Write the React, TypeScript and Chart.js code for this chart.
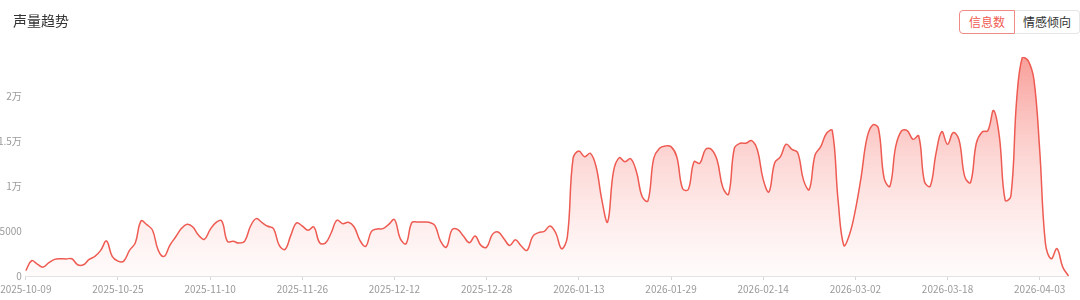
import React, { useEffect, useRef } from "react";
import { Chart, registerables } from "chart.js";

Chart.register(...registerables);

const START_DATE = "2025-10-09";
const DAY_COUNT = 182;
const TICK_EVERY = 16;

const volume: number[] = [
  600, 1700, 1320, 990, 1480, 1850, 1920, 1900, 1920, 1250,
  1250, 1850, 2180, 2850, 3900, 2180, 1660, 1660, 2850, 3670,
  6130, 5720, 5090, 2850, 2180, 3410, 4340, 5280, 5760, 5460,
  4530, 4080, 5170, 5950, 6130, 3860, 3860, 3670, 3890, 5540,
  6390, 5950, 5540, 5280, 3410, 2960, 4530, 5910, 5570, 5090,
  5460, 3710, 3670, 4790, 6210, 5830, 5980, 5460, 3970, 3300,
  4980, 5240, 5280, 5760, 6280, 4160, 3600, 5950, 6020, 6020,
  5980, 5650, 3880, 3220, 5160, 5160, 4420, 3710, 4460, 3410,
  3220, 4640, 4900, 4160, 3410, 4045, 3340, 2850, 4420, 4830,
  4980, 5570, 4790, 3040, 4340, 13110, 13930, 13290, 13670, 12170,
  8450, 6020, 11610, 13180, 12730, 13070, 11610, 8820, 8370, 13110,
  14230, 14490, 14410, 13290, 9750, 9640, 12730, 12550, 14110, 14110,
  12920, 9860, 9120, 14230, 14790, 14790, 15080, 14040, 10760, 9370,
  12620, 13290, 14680, 14110, 13740, 10680, 9640, 13480, 14410, 15900,
  16200, 8450, 3410, 4640, 7330, 11000, 15340, 16830, 16460, 10870,
  10010, 14410, 16160, 16200, 15230, 15600, 10500, 10010, 13670, 16090,
  14680, 15980, 15160, 11050, 10420, 14790, 16050, 16200, 18440, 15530,
  8450, 8890, 19630, 24400, 23990, 21870, 14040, 3600, 1920, 3040,
  985, 0,
];

const yTickValues: number[] = [0, 5000, 10000, 15000, 20000];
const yTickLabels: string[] = ["0", "5000", "1万", "1.5万", "2万"];

function buildDates(start: string, count: number): string[] {
  const out: string[] = [];
  const d = new Date(start + "T00:00:00Z");
  for (let i = 0; i < count; i++) {
    const c = new Date(d.getTime() + i * 86400000);
    const y = c.getUTCFullYear();
    const m = String(c.getUTCMonth() + 1).padStart(2, "0");
    const dd = String(c.getUTCDate()).padStart(2, "0");
    out.push(`${y}-${m}-${dd}`);
  }
  return out;
}

const dates = buildDates(START_DATE, DAY_COUNT);

const FONT = "'Noto Sans CJK SC', 'Noto Sans', sans-serif";

export default function App() {
  const ref = useRef<HTMLCanvasElement | null>(null);

  useEffect(() => {
    if (!ref.current) return;
    const chart = new Chart(ref.current, {
      type: "line",
      data: {
        labels: dates,
        datasets: [
          {
            data: volume,
            borderColor: "#ee5b52",
            borderWidth: 1.5,
            pointRadius: 0,
            tension: 0.4,
            fill: true,
            backgroundColor: (ctx: any) => {
              const area = ctx.chart.chartArea;
              if (!area) return "rgba(242,90,80,0.2)";
              const g = ctx.chart.ctx.createLinearGradient(0, area.top, 0, area.bottom);
              g.addColorStop(0, "rgba(244,96,88,0.6)");
              g.addColorStop(0.45, "rgba(246,120,112,0.3)");
              g.addColorStop(1, "rgba(250,160,155,0.04)");
              return g;
            },
          },
        ],
      },
      options: {
        responsive: false,
        animation: false,
        layout: { padding: { top: 57, right: 11.5, left: 0, bottom: 0 } },
        plugins: { legend: { display: false }, tooltip: { enabled: false } },
        scales: {
          x: {
            type: "category",
            offset: false,
            border: { display: true, color: "#e3e3e3" },
            grid: {
              display: true,
              drawOnChartArea: false,
              drawTicks: true,
              tickLength: 4,
              color: "#d6d6d6",
            },
            afterBuildTicks: (scale: any) => {
              scale.ticks = scale.ticks.filter((t: any) => t.value % TICK_EVERY === 0);
            },
            afterFit: (scale: any) => {
              scale.height = 24;
              scale.paddingLeft = 0;
              scale.paddingRight = 0;
            },
            ticks: {
              autoSkip: false,
              maxRotation: 0,
              minRotation: 0,
              padding: 3,
              color: "#9a9a9a",
              font: { family: FONT, size: 10 },
              callback: function (this: any, value: any) {
                return dates[value as number];
              },
            },
          },
          y: {
            min: 0,
            max: 24400,
            border: { display: false },
            grid: { display: false, drawTicks: false },
            afterBuildTicks: (scale: any) => {
              scale.ticks = yTickValues.map((v) => ({ value: v }));
            },
            afterFit: (scale: any) => {
              scale.width = 25.8;
            },
            ticks: {
              padding: 4,
              color: "#9a9a9a",
              font: { family: FONT, size: 10 },
              callback: (value: any) => {
                const idx = yTickValues.indexOf(Number(value));
                return idx >= 0 ? yTickLabels[idx] : "";
              },
            },
          },
        },
      },
    } as any);
    return () => chart.destroy();
  }, []);

  return (
    <div
      style={{
        position: "absolute",
        left: 0,
        top: 0,
        width: 1080,
        height: 300,
        background: "#fff",
        fontFamily: FONT,
        overflow: "hidden",
      }}
    >
      <canvas
        ref={ref}
        width={1080}
        height={300}
        style={{ position: "absolute", left: 0, top: 0, display: "block" }}
      />
      <div
        style={{
          position: "absolute",
          left: 13,
          top: 10,
          fontSize: 14,
          color: "#333",
          lineHeight: "20px",
        }}
      >
        声量趋势
      </div>
      <div
        style={{
          position: "absolute",
          left: 959,
          top: 10,
          height: 24,
          display: "flex",
          fontSize: 12,
        }}
      >
        <div
          style={{
            width: 54,
            height: 22,
            lineHeight: "22px",
            textAlign: "center",
            color: "#ef5b52",
            border: "1px solid #f08a84",
            borderRadius: "4px 0 0 4px",
            background: "#fff",
          }}
        >
          信息数
        </div>
        <div
          style={{
            width: 64,
            height: 22,
            lineHeight: "22px",
            textAlign: "center",
            color: "#333",
            border: "1px solid #e6e6e6",
            borderLeft: "none",
            borderRadius: "0 4px 4px 0",
            background: "#fff",
          }}
        >
          情感倾向
        </div>
      </div>
    </div>
  );
}
